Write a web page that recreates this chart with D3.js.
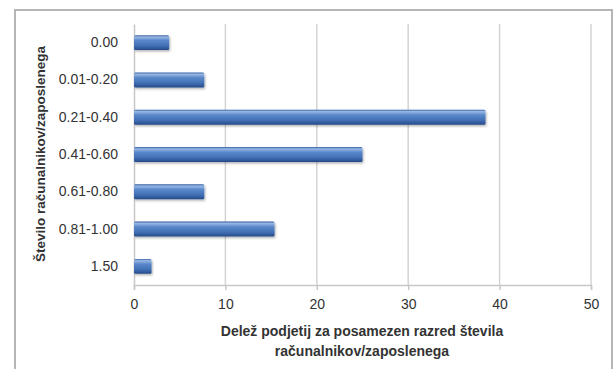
<!DOCTYPE html>
<html>
<head>
<meta charset="utf-8">
<script src="https://cdn.jsdelivr.net/npm/d3@7"></script>
<style>
  html, body { margin: 0; padding: 0; background: #fff; }
  svg { display: block; }
</style>
</head>
<body>
<svg id="chart" width="613" height="369"></svg>
<script>
// Share of companies per class of computers per employee
const categories = ["0.00", "0.01-0.20", "0.21-0.40", "0.41-0.60", "0.61-0.80", "0.81-1.00", "1.50"];
const shares = [3.85, 7.69, 38.46, 25.0, 7.69, 15.38, 1.92];
const xTicks = [0, 10, 20, 30, 40, 50];
const xTitle = ["Delež podjetij za posamezen razred števila", "računalnikov/zaposlenega"];
const yTitle = "Število računalnikov/zaposlenega";

const svg = d3.select("#chart");
const font = "'Liberation Sans', Arial, sans-serif";

// outer chart frame
svg.append("rect")
  .attr("x", 15).attr("y", 10)
  .attr("width", 597).attr("height", 380)
  .attr("fill", "#fff")
  .attr("stroke", "#b5b5b5").attr("stroke-width", 2);

const plot = { left: 134, right: 591, top: 24, bottom: 285 };

const x = d3.scaleLinear().domain([0, 50]).range([plot.left, plot.right]);
const y = d3.scaleBand().domain(categories).range([plot.top, plot.bottom]).paddingInner(0.6).paddingOuter(0.3);

// bar gradient: cylinder-like shading
const defs = svg.append("defs");
const grad = defs.append("linearGradient").attr("id", "barGrad")
  .attr("x1", 0).attr("y1", 0).attr("x2", 0).attr("y2", 1);
[[0, "#3560a6"], [0.12, "#98b7e4"], [0.35, "#5a88ca"], [0.7, "#4270b5"], [1, "#264a88"]]
  .forEach(([o, c]) => grad.append("stop").attr("offset", o).attr("stop-color", c));

const shadow = defs.append("filter").attr("id", "barShadow")
  .attr("x", "-5%").attr("y", "-30%").attr("width", "115%").attr("height", "180%");
shadow.append("feDropShadow").attr("dx", 1).attr("dy", 1.5).attr("stdDeviation", 1)
  .attr("flood-color", "#000").attr("flood-opacity", 0.3);

// vertical gridlines
svg.append("g").selectAll("line")
  .data(xTicks.filter(d => d > 0))
  .join("line")
  .attr("x1", d => x(d)).attr("x2", d => x(d))
  .attr("y1", plot.top).attr("y2", plot.bottom)
  .attr("stroke", "#d4d4d4").attr("stroke-width", 1.5);

// x axis
const xAxis = svg.append("g")
  .attr("transform", `translate(0,${plot.bottom})`)
  .call(d3.axisBottom(x).tickValues(xTicks).tickSize(5).tickPadding(9));
xAxis.select(".domain").attr("stroke", "#c8c8c8").attr("stroke-width", 1.5);
xAxis.selectAll(".tick line").attr("stroke", "#c8c8c8").attr("stroke-width", 1.5);
xAxis.selectAll("text")
  .style("font-family", font).style("font-size", "14px").style("fill", "#333");

// y axis
const yAxis = svg.append("g")
  .attr("transform", `translate(${plot.left},0)`)
  .call(d3.axisLeft(y).tickSize(0).tickPadding(16));
yAxis.select(".domain").attr("stroke", "#c8c8c8").attr("stroke-width", 1.5);
yAxis.selectAll("text")
  .style("font-family", font).style("font-size", "14px").style("fill", "#333");

// bars
svg.append("g").selectAll("rect")
  .data(categories.map((c, i) => ({ c, v: shares[i] })))
  .join("rect")
  .attr("x", x(0))
  .attr("y", d => y(d.c))
  .attr("width", d => x(d.v) - x(0))
  .attr("height", y.bandwidth())
  .attr("rx", 1.5)
  .attr("fill", "url(#barGrad)")
  .attr("filter", "url(#barShadow)");

// axis titles
svg.append("text")
  .attr("x", 362).attr("y", 336)
  .attr("text-anchor", "middle")
  .style("font-family", font).style("font-size", "14px").style("font-weight", "bold").style("fill", "#333")
  .selectAll("tspan").data(xTitle).join("tspan")
  .attr("x", 362).attr("dy", (d, i) => i === 0 ? 0 : 20)
  .text(d => d);

svg.append("text")
  .attr("transform", "translate(45,154) rotate(-90)")
  .attr("text-anchor", "middle")
  .style("font-family", font).style("font-size", "13.5px").style("font-weight", "bold").style("fill", "#333")
  .text(yTitle);
</script>
</body>
</html>
